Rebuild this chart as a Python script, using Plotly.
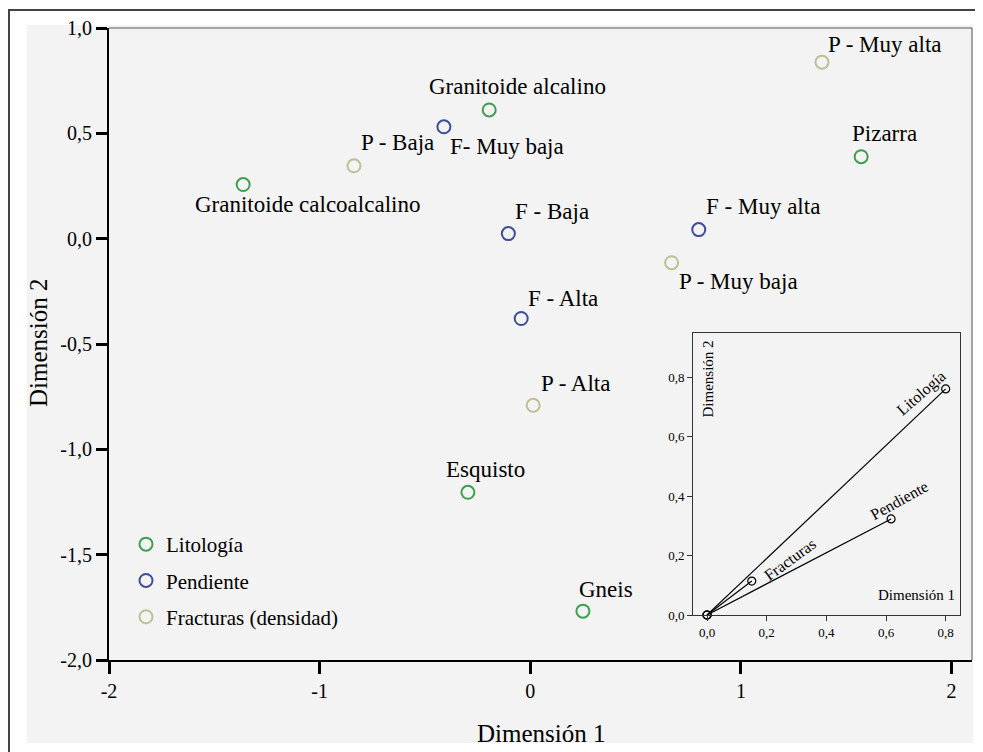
import plotly.graph_objects as go

# ---------------- data ----------------
lito_names = ["Granitoide calcoalcalino", "Granitoide alcalino", "Esquisto", "Gneis", "Pizarra"]
lito_x = [-1.363, -0.195, -0.296, 0.250, 1.571]
lito_y = [0.257, 0.611, -1.204, -1.768, 0.389]

pend_names = ["F- Muy baja", "F - Baja", "F - Alta", "F - Muy alta"]
pend_x = [-0.410, -0.104, -0.043, 0.800]
pend_y = [0.531, 0.024, -0.379, 0.043]

frac_names = ["P - Baja", "P - Alta", "P - Muy baja", "P - Muy alta"]
frac_x = [-0.837, 0.014, 0.671, 1.385]
frac_y = [0.346, -0.791, -0.114, 0.838]

x_ticks = [-2, -1, 0, 1, 2]
x_ticktext = ["-2", "-1", "0", "1", "2"]
y_ticks = [1.0, 0.5, 0.0, -0.5, -1.0, -1.5, -2.0]
y_ticktext = ["1,0", "0,5", "0,0", "-0,5", "-1,0", "-1,5", "-2,0"]

inset_vars = ["Litología", "Pendiente", "Fracturas"]
inset_d1 = [0.800, 0.617, 0.150]
inset_d2 = [0.760, 0.323, 0.114]
inset_ticks = [0.0, 0.2, 0.4, 0.6, 0.8]
inset_ticktext = ["0,0", "0,2", "0,4", "0,6", "0,8"]

legend_names = ["Litología", "Pendiente", "Fracturas (densidad)"]

# ---------------- styles ----------------
FONT = "Liberation Serif, Tinos, DejaVu Serif, serif"
GREEN = "#3f9f4f"
BLUE = "#3b4d9c"
TAN = "#bfbf93"
BG = "#f3f3f3"

# label offsets (pixels, right / down) from each point to label centre
lito_off = [(64, 20), (28, -23), (18, -23), (23, -22), (23, -23)]
pend_off = [(63, 20), (44, -22), (42, -20), (64, -23)]
frac_off = [(44, -23), (42, -22), (67, 19), (63, -18)]
inset_lab = {  # dx, dy, angle
    "Litología": (-24, 4, -41),
    "Pendiente": (8, -18, -29),
    "Fracturas": (38, -22, -36),
}

# page has an 8px body margin -> figure is drawn from (8, 8)
OFF = 8
W, H = 983 - OFF, 752 - OFF
# plot area in page pixels: x 109..972, y 28..660
L, R, T, B = 109 - OFF, 983 - 972, 28 - OFF, 752 - 660
PW, PH = W - L - R, H - T - B


def px(xp):
    """page x pixel -> paper fraction"""
    return (xp - OFF - L) / PW


def py(yp):
    """page y pixel -> paper fraction"""
    return (H - B - (yp - OFF)) / PH


fig = go.Figure()

groups = [
    (legend_names[0], lito_names, lito_x, lito_y, GREEN, lito_off),
    (legend_names[1], pend_names, pend_x, pend_y, BLUE, pend_off),
    (legend_names[2], frac_names, frac_x, frac_y, TAN, frac_off),
]

annotations = []
for gname, names, xs, ys, col, offs in groups:
    fig.add_trace(go.Scatter(
        x=xs, y=ys, mode="markers", name=gname, legendgroup=gname,
        marker=dict(symbol="circle-open", size=13, color=col, line=dict(width=2, color=col)),
        cliponaxis=False, hoverinfo="text", text=names,
    ))
    for n, xv, yv, (dx, dy) in zip(names, xs, ys, offs):
        annotations.append(dict(
            x=xv, y=yv, xref="x", yref="y", text=n, showarrow=False,
            xanchor="center", yanchor="middle", xshift=dx, yshift=-dy,
            font=dict(family=FONT, size=23, color="black"),
        ))

# inset
for v, a, b in zip(inset_vars, inset_d1, inset_d2):
    fig.add_trace(go.Scatter(
        x=[0, a], y=[0, b], xaxis="x2", yaxis="y2", mode="lines+markers",
        line=dict(color="black", width=1.2),
        marker=dict(symbol="circle-open", size=8, color="black", line=dict(width=1.2, color="black")),
        showlegend=False, cliponaxis=False, hoverinfo="skip",
    ))
    dx, dy, ang = inset_lab[v]
    annotations.append(dict(
        x=a, y=b, xref="x2", yref="y2", text=v, showarrow=False,
        xanchor="center", yanchor="middle", xshift=dx, yshift=-dy, textangle=ang,
        font=dict(family=FONT, size=16, color="black"),
    ))

annotations.append(dict(
    x=0.99, y=0.035, xref="x2 domain", yref="y2 domain", text="Dimensión 1", showarrow=False,
    xanchor="right", yanchor="bottom", font=dict(family=FONT, size=15, color="black"),
))
annotations.append(dict(
    x=0.02, y=0.98, xref="x2 domain", yref="y2 domain", text="Dimensión 2", showarrow=False,
    xanchor="left", yanchor="top", textangle=-90, font=dict(family=FONT, size=15, color="black"),
))

# axis titles
annotations.append(dict(
    x=px(541), y=py(733), xref="paper", yref="paper", text="Dimensión 1", showarrow=False,
    xanchor="center", yanchor="middle", font=dict(family=FONT, size=25, color="black"),
))
annotations.append(dict(
    x=px(38), y=py(343), xref="paper", yref="paper", text="Dimensión 2", showarrow=False,
    xanchor="center", yanchor="middle", textangle=-90, font=dict(family=FONT, size=25, color="black"),
))

shapes = [
    # grey panel
    dict(type="rect", xref="paper", yref="paper", x0=px(27), x1=px(973), y0=py(743), y1=py(25),
         fillcolor=BG, line=dict(width=0), layer="below"),
    # outer border
    dict(type="rect", xref="paper", yref="paper", x0=px(9), x1=px(981), y0=py(775), y1=py(10),
         fillcolor="rgba(0,0,0,0)", line=dict(width=2, color="#444"), layer="below"),
    # top and right frame of plot area
    dict(type="line", xref="paper", yref="paper", x0=0, x1=1, y0=1, y1=1,
         line=dict(width=1, color="#555")),
    dict(type="line", xref="paper", yref="paper", x0=1, x1=1, y0=0, y1=1,
         line=dict(width=1, color="#555")),
]

inset_x0, inset_x1 = px(693), px(960)
inset_y0, inset_y1 = py(615), py(333)

fig.update_layout(
    template="none",
    width=W, height=H, autosize=False,
    margin=dict(l=L, r=R, t=T, b=B, autoexpand=False),
    paper_bgcolor="white", plot_bgcolor=BG,
    font=dict(family=FONT, color="black"),
    showlegend=True,
    legend=dict(x=px(126), y=py(524), xanchor="left", yanchor="top",
                bgcolor="rgba(0,0,0,0)", font=dict(family=FONT, size=21, color="black"),
                tracegroupgap=6, itemclick=False),
    xaxis=dict(range=[-2, (972 - 530) / 210.75], tickvals=x_ticks, ticktext=x_ticktext,
               showgrid=False, zeroline=False, showline=True, linecolor="black", linewidth=2,
               ticks="outside", ticklen=12, tickwidth=3, tickcolor="black",
               tickfont=dict(family=FONT, size=20, color="black"), automargin=False),
    yaxis=dict(range=[-2, 1.0], tickvals=y_ticks, ticktext=y_ticktext,
               showgrid=False, zeroline=False, showline=True, linecolor="black", linewidth=2,
               ticks="outside", ticklen=11, tickwidth=3, tickcolor="black",
               tickfont=dict(family=FONT, size=20, color="black"), automargin=False),
    xaxis2=dict(domain=[inset_x0, inset_x1], anchor="y2", range=[-0.047, 0.848],
                tickvals=inset_ticks, ticktext=inset_ticktext,
                showgrid=False, zeroline=False, showline=True, mirror=True,
                linecolor="#333", linewidth=1, ticks="outside", ticklen=5, tickwidth=1,
                tickcolor="#333", tickfont=dict(family=FONT, size=13, color="black"),
                automargin=False),
    yaxis2=dict(domain=[inset_y0, inset_y1], anchor="x2", range=[0, 0.948],
                tickvals=inset_ticks, ticktext=inset_ticktext,
                showgrid=False, zeroline=False, showline=True, mirror=True,
                linecolor="#333", linewidth=1, ticks="outside", ticklen=5, tickwidth=1,
                tickcolor="#333", tickfont=dict(family=FONT, size=13, color="black"),
                automargin=False),
    annotations=annotations,
    shapes=shapes,
)

fig.write_html("out.html")
